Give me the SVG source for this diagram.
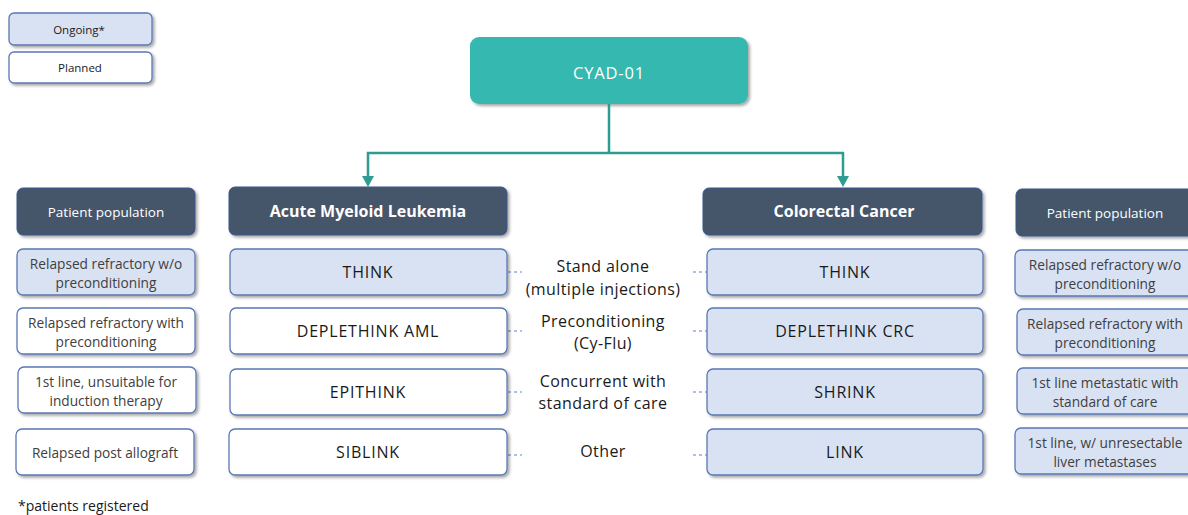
<svg xmlns="http://www.w3.org/2000/svg" width="1188" height="515" viewBox="0 0 1188 515">
<defs>
<filter id="sh" x="-10%" y="-20%" width="130%" height="160%">
<feDropShadow dx="2" dy="2" stdDeviation="1.5" flood-color="#000" flood-opacity="0.35"/>
</filter>
</defs>
<style>
text{font-family:"Open Sans","Liberation Sans",sans-serif;text-anchor:middle;dominant-baseline:central}
.on{fill:#d9e2f2;stroke:#5a78b4;stroke-width:1.3}
.pl{fill:#ffffff;stroke:#5a78b4;stroke-width:1.3}
.hd{fill:#44546a;stroke:#3a5690;stroke-width:1}
.pt{font-size:13.7px;fill:#404040}
.tr{font-size:16px;fill:#1a1a1a;font-weight:500;letter-spacing:0.8px}
.ht{font-size:16px;fill:#fff;font-weight:bold}
.hp{font-size:13.5px;fill:#fff}
.mid{font-size:16px;fill:#1a1a1a;font-weight:500;letter-spacing:0.4px}
.lg{font-size:11.5px;fill:#1a1a1a}
.dash{stroke:#5b84c8;stroke-width:1;stroke-dasharray:3,3;fill:none}
.conn{stroke:#2e9c90;stroke-width:2.5;fill:none}
.ah{fill:#2e9c90}
</style>
<g id="legend-ongoing"><rect class="on" x="9" y="13" width="143" height="32" rx="5" filter="url(#sh)"/><text class="lg" x="79" y="29">Ongoing*</text></g>
<g id="legend-planned"><rect class="pl" x="9" y="52" width="143" height="31" rx="5" filter="url(#sh)"/><text class="lg" x="80" y="67">Planned</text></g>
<g id="cyad"><rect x="470" y="37" width="278" height="67" rx="9" fill="#36b8b0" filter="url(#sh)"/><text x="609" y="72" font-size="16.5" fill="#fff" letter-spacing="0.8">CYAD-01</text></g>
<g id="connectors">
<path class="conn" d="M609,104 V153 M366.8,153 H844.2 M368,153 V178 M843,153 V178"/>
<polygon class="ah" points="362,176 374,176 368,187"/>
<polygon class="ah" points="837,176 849,176 843,187"/>
<path class="dash" d="M508,272 H522 M693,272 H707 M508,331 H522 M693,331 H707 M508,392 H522 M693,392 H707 M508,455 H522 M693,455 H707"/>
</g>
<g id="pp-left"><rect class="hd" x="17" y="188" width="178" height="47" rx="6" filter="url(#sh)"/><text class="hp" x="106" y="212">Patient population</text></g>
<g id="aml"><rect class="hd" x="229" y="187" width="278" height="48" rx="6" filter="url(#sh)"/><text class="ht" x="368" y="211">Acute Myeloid Leukemia</text></g>
<g id="crc"><rect class="hd" x="703" y="188" width="279" height="47" rx="6" filter="url(#sh)"/><text class="ht" x="844" y="211">Colorectal Cancer</text></g>
<g id="pp-right"><rect class="hd" x="1016" y="189" width="180" height="47" rx="6" filter="url(#sh)"/><text class="hp" x="1105" y="213">Patient population</text></g>

<g id="lp1"><rect class="on" x="17" y="249" width="178" height="46" rx="6" filter="url(#sh)"/><text class="pt" x="106" y="263">Relapsed refractory w/o</text><text class="pt" x="106" y="282">preconditioning</text></g>
<g id="lp2"><rect class="pl" x="17" y="308" width="178" height="46" rx="6" filter="url(#sh)"/><text class="pt" x="106" y="322">Relapsed refractory with</text><text class="pt" x="106" y="341">preconditioning</text></g>
<g id="lp3"><rect class="pl" x="18" y="367" width="178" height="46" rx="6" filter="url(#sh)"/><text class="pt" x="106" y="381">1st line, unsuitable for</text><text class="pt" x="106" y="400">induction therapy</text></g>
<g id="lp4"><rect class="pl" x="16" y="429" width="178" height="46" rx="6" filter="url(#sh)"/><text class="pt" x="105" y="452">Relapsed post allograft</text></g>

<g id="think-aml"><rect class="on" x="230" y="249" width="277" height="46" rx="6" filter="url(#sh)"/><text class="tr" x="368" y="272">THINK</text></g>
<g id="deplethink-aml"><rect class="pl" x="230" y="308" width="277" height="46" rx="6" filter="url(#sh)"/><text class="tr" x="368" y="331">DEPLETHINK AML</text></g>
<g id="epithink"><rect class="pl" x="230" y="369" width="277" height="46" rx="6" filter="url(#sh)"/><text class="tr" x="368" y="392">EPITHINK</text></g>
<g id="siblink"><rect class="pl" x="229" y="429" width="278" height="46" rx="6" filter="url(#sh)"/><text class="tr" x="368" y="452">SIBLINK</text></g>

<g id="mid1"><text class="mid" x="603" y="266">Stand alone</text><text class="mid" x="603" y="289">(multiple injections)</text></g>
<g id="mid2"><text class="mid" x="603" y="321">Preconditioning</text><text class="mid" x="603" y="343">(Cy-Flu)</text></g>
<g id="mid3"><text class="mid" x="603" y="381">Concurrent with</text><text class="mid" x="603" y="403">standard of care</text></g>
<g id="mid4"><text class="mid" x="603" y="451">Other</text></g>

<g id="think-crc"><rect class="on" x="707" y="249" width="276" height="46" rx="6" filter="url(#sh)"/><text class="tr" x="845" y="272">THINK</text></g>
<g id="deplethink-crc"><rect class="on" x="707" y="308" width="276" height="46" rx="6" filter="url(#sh)"/><text class="tr" x="845" y="331">DEPLETHINK CRC</text></g>
<g id="shrink"><rect class="on" x="707" y="369" width="276" height="46" rx="6" filter="url(#sh)"/><text class="tr" x="845" y="392">SHRINK</text></g>
<g id="link"><rect class="on" x="707" y="429" width="276" height="46" rx="6" filter="url(#sh)"/><text class="tr" x="845" y="452">LINK</text></g>

<g id="rp1"><rect class="on" x="1015" y="250" width="180" height="46" rx="6" filter="url(#sh)"/><text class="pt" x="1105" y="264">Relapsed refractory w/o</text><text class="pt" x="1105" y="283">preconditioning</text></g>
<g id="rp2"><rect class="on" x="1017" y="309" width="180" height="46" rx="6" filter="url(#sh)"/><text class="pt" x="1105" y="323">Relapsed refractory with</text><text class="pt" x="1105" y="342">preconditioning</text></g>
<g id="rp3"><rect class="on" x="1017" y="368" width="180" height="46" rx="6" filter="url(#sh)"/><text class="pt" x="1105" y="382">1st line metastatic with</text><text class="pt" x="1105" y="401">standard of care</text></g>
<g id="rp4"><rect class="on" x="1015" y="428" width="180" height="46" rx="6" filter="url(#sh)"/><text class="pt" x="1105" y="442">1st line, w/ unresectable</text><text class="pt" x="1105" y="461">liver metastases</text></g>

<text x="18" y="505" font-size="14" font-weight="500" fill="#1a1a1a" style="text-anchor:start">*patients registered</text>
</svg>
